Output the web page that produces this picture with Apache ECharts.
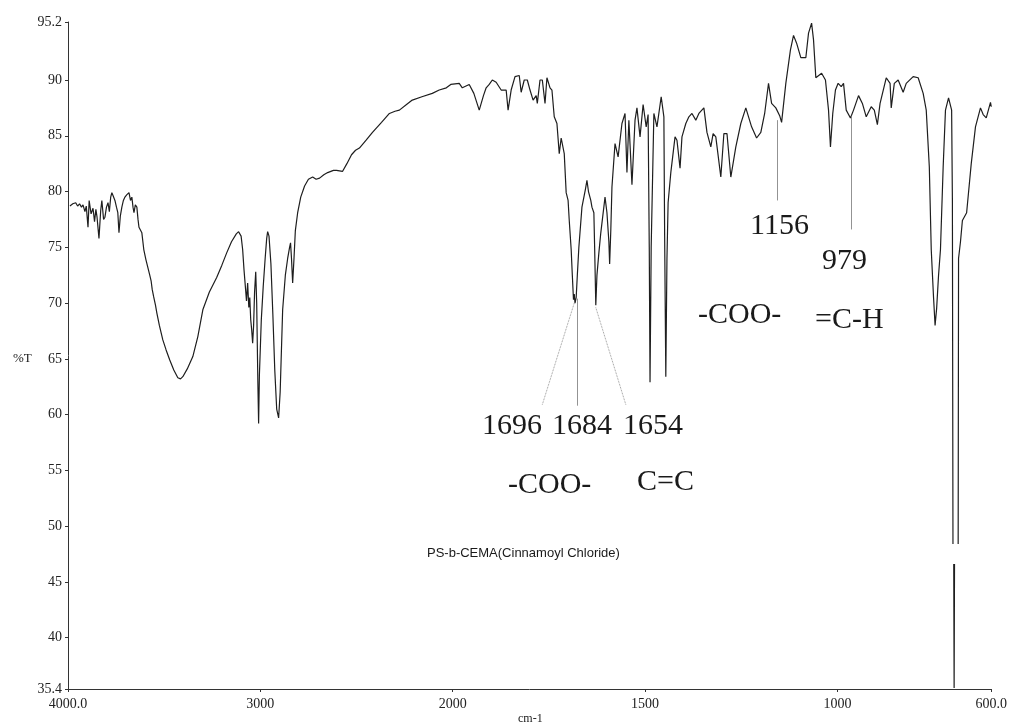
<!DOCTYPE html>
<html>
<head>
<meta charset="utf-8">
<script src="https://cdn.jsdelivr.net/npm/echarts@6/dist/echarts.min.js"></script>
<style>
html,body{margin:0;padding:0;background:#fff;}
#chart{width:1010px;height:728px;}
</style>
</head>
<body>
<div id="chart"></div>
<script>
// ---- tick labels ----
const xTickValues = [4000, 3000, 2000, 1500, 1000, 600];
const xTickLabels = ['4000.0', '3000', '2000', '1500', '1000', '600.0'];
const yTickValues = [35.4, 40, 45, 50, 55, 60, 65, 70, 75, 80, 85, 90, 95.2];
const yTickLabels = ['35.4', '40', '45', '50', '55', '60', '65', '70', '75', '80', '85', '90', '95.2'];

// ---- spectrum: [wavenumber cm-1, %T] ; null = pen gap ----
const specOH = [[3990,78.7],[3975,78.9],[3960,79.0],[3950,78.7],[3940,78.9],[3930,78.6],[3922,78.8],[3912,78.2],[3905,78.7],[3896,76.8],[3890,79.2],[3880,78.0],[3870,78.5],[3862,77.3],[3855,78.4],[3849,77.7],[3839,75.8],[3830,78.3],[3824,79.2],[3815,77.5],[3808,77.7],[3800,78.6],[3792,79.0],[3785,78.2],[3778,79.5],[3772,79.9],[3765,79.6],[3756,79.2],[3748,78.6],[3741,78.1],[3735,76.3],[3728,77.8],[3720,78.6],[3712,79.2],[3704,79.5],[3695,79.7],[3683,79.9],[3675,79.2],[3668,79.5],[3662,78.6],[3657,78.1],[3650,78.8],[3642,78.6],[3636,77.5],[3631,76.8],[3622,76.9],[3616,76.3],[3606,74.8],[3595,73.9],[3585,73.2],[3575,72.5],[3568,72.0],[3562,71.2],[3555,70.6],[3545,69.8],[3538,69.1],[3525,68.0],[3507,66.7],[3490,65.8],[3471,64.9],[3450,64.0],[3429,63.3],[3415,63.2],[3403,63.4],[3380,64.1],[3351,65.2],[3325,67.0],[3299,69.4],[3265,71.0],[3227,72.3],[3200,73.4],[3175,74.5],[3150,75.5],[3125,76.2],[3113,76.4],[3100,76.0],[3092,74.8]];
const specCH = [[3085,73.0],[3078,71.5],[3072,70.2],[3066,71.8],[3060,69.6],[3055,70.5],[3050,68.5],[3045,67.6],[3040,66.4],[3035,68.0],[3030,71.0],[3024,72.8],[3019,70.0],[3013,63.0],[3009,59.2],[3005,63.5],[3000,66.0],[2995,68.5],[2985,71.5],[2975,74.0],[2967,75.8],[2962,76.4],[2955,76.0],[2945,73.5],[2935,69.0],[2925,64.0],[2915,60.5],[2905,59.7],[2897,62.0],[2890,66.0],[2884,69.4],[2870,72.5],[2858,74.0],[2848,75.0],[2843,75.4],[2838,74.0],[2832,71.8],[2825,74.0],[2818,76.5],[2806,78.1],[2790,79.5],[2770,80.5],[2750,81.1],[2728,81.3],[2710,81.1],[2692,81.2],[2670,81.5],[2650,81.7],[2620,81.9],[2604,81.9],[2573,81.8],[2550,82.5],[2526,83.3],[2505,83.7],[2485,83.9],[2450,84.6],[2417,85.3],[2370,86.2],[2329,87.0],[2300,87.2],[2277,87.3],[2240,87.8],[2210,88.2],[2160,88.5],[2106,88.8],[2070,89.1],[2033,89.3],[2010,89.6]];
const specCO = [[1983,89.7],[1975,89.3],[1957,89.6],[1945,88.8],[1931,87.3],[1920,88.6],[1913,89.3],[1905,89.6],[1897,90.0],[1887,89.8],[1874,89.1],[1861,89.1],[1856,87.3],[1848,89.1],[1838,90.3],[1827,90.4],[1822,88.9],[1814,90.0],[1806,90.0],[1799,89.1],[1791,88.2],[1783,88.6],[1780,87.9],[1773,90.0],[1767,90.0],[1760,87.9],[1755,90.2],[1747,89.3],[1742,89.1],[1736,86.7],[1729,86.1],[1723,83.4],[1718,84.8],[1710,83.4],[1705,79.9],[1700,79.2],[1697,77.4],[1692,74.8],[1689,72.5],[1686,70.3],[1684,70.8],[1682,70.0],[1679,70.5],[1676,72.5],[1672,75.0],[1664,78.6],[1655,80.2],[1651,81.0],[1647,80.0],[1641,79.2],[1638,78.6],[1633,78.1],[1631,75.0],[1628,69.8],[1625,72.5],[1620,74.5],[1615,76.3],[1604,79.5],[1599,78.1],[1594,75.5],[1592,73.5],[1589,76.5],[1586,80.4],[1578,84.3],[1570,83.1],[1560,86.1],[1552,87.0],[1547,81.7],[1542,86.4],[1534,80.6],[1526,86.4],[1521,87.5],[1513,84.9],[1505,87.8],[1497,85.8],[1492,86.9],[1489,75.0],[1487,62.9],[1484,75.0],[1477,87.0],[1469,85.8],[1458,88.5],[1451,86.7],[1449,76.0],[1446,63.4],[1443,74.0],[1440,79.0]];
const specFP = [[1433,81.7],[1422,84.9],[1417,84.6],[1409,82.1],[1404,84.9],[1394,86.1],[1386,86.7],[1378,87.0],[1368,86.4],[1360,87.0],[1347,87.5],[1339,85.3],[1329,84.0],[1323,85.2],[1316,84.9],[1303,81.3],[1295,85.2],[1287,85.2],[1277,81.3],[1264,84.0],[1251,86.1],[1238,87.5],[1223,85.8],[1210,84.8],[1199,85.3],[1189,87.0],[1179,89.7],[1171,87.9],[1160,87.5],[1150,86.8],[1145,86.2],[1134,89.7],[1122,92.7],[1114,94.0],[1106,93.3],[1095,92.0],[1082,92.0],[1075,94.2],[1067,95.1],[1062,93.6],[1056,90.2],[1041,90.6],[1031,90.0],[1023,87.3],[1018,84.0],[1012,87.0],[1005,89.1],[998,89.7],[990,89.4],[984,89.7],[977,87.3],[966,86.6],[958,87.3],[945,88.6],[935,87.9],[925,86.7],[912,87.6],[904,87.3],[896,86.0],[889,87.9],[873,90.2],[863,89.7],[860,87.5],[852,89.7],[842,90.0],[829,88.9],[821,89.7],[803,90.3],[790,90.2],[777,88.8],[769,87.3],[761,82.2],[756,74.8],[750,70.5],[746,68.0],[742,69.5],[737,72.5],[732,74.8],[725,82.2],[719,87.3],[711,88.4],[703,87.3],[701,79.2],[699.5,48.4],[698.8,null],[697.5,46.6],[696.5,35.5],[695.5,46.6],[690,null],[686,48.4],[685,74.0],[680,75.5],[675,77.4],[664,78.1],[652,82.5],[641,85.8],[628,87.5],[621,86.9],[613,86.6],[602,88.0],[600,87.6]];

// ---- peak marker lines: [wavenumber, %T from, %T to] ----
const peakMarks = [[1155, 86.4, 79.2], [965, 86.8, 76.6], [1677, 70.4, 60.8]];
// leader lines from peaks to labels: [[w1,T1],[w2,T2]]
const leaders = [[[1684, 70.0], [1767, 60.9]], [[1628, 69.6], [1550, 60.9]]];

// display transform: 2x expansion below 2000 cm-1 (as in the instrument plot)
function toX(w) { return w >= 2000 ? 4000 - w : 2000 + 2 * (2000 - w); }
function labelFor(values, labels, v, f) {
  let best = 0, d = Infinity;
  values.forEach((x, i) => { const dd = Math.abs(f(x) - v); if (dd < d) { d = dd; best = i; } });
  return labels[best];
}

const spectrum = [].concat(specOH, specCH, specCO, specFP).map(p => [toX(p[0]), p[1] === null ? '-' : p[1]]);

const serif = "'Liberation Serif','DejaVu Serif',serif";
const chart = echarts.init(document.getElementById('chart'), null, {renderer: 'canvas'});

const markData = peakMarks.map(m => [
  {coord: [toX(m[0]), m[1]], lineStyle: {color: '#777', width: 0.8, type: 'solid'}},
  {coord: [toX(m[0]), m[2]]}
]).concat(leaders.map(l => [
  {coord: [toX(l[0][0]), l[0][1]], lineStyle: {color: '#777', width: 0.8, type: 'dotted'}},
  {coord: [toX(l[1][0]), l[1][1]]}
]));

function txt(x, y, s, size, family) {
  return {type: 'text', left: x, top: y, style: {text: s, fill: '#1a1a1a', font: size + 'px ' + (family || serif)}};
}

chart.setOption({
  animation: false,
  backgroundColor: '#fff',
  grid: {left: 68, right: 17, top: 22, bottom: 39},
  xAxis: {
    type: 'value', min: 0, max: 4800,
    splitLine: {show: false},
    axisLine: {lineStyle: {color: '#333', width: 1}},
    axisTick: {show: true, length: 3, customValues: xTickValues.map(toX), lineStyle: {color: '#333'}},
    axisLabel: {
      customValues: xTickValues.map(toX),
      formatter: v => labelFor(xTickValues, xTickLabels, v, toX),
      color: '#222', fontFamily: serif, fontSize: 14, margin: 8
    }
  },
  yAxis: {
    type: 'value', min: 35.4, max: 95.2,
    splitLine: {show: false},
    axisLine: {show: true, lineStyle: {color: '#333', width: 1}},
    axisTick: {show: true, length: 3, customValues: yTickValues, lineStyle: {color: '#333'}},
    axisLabel: {
      customValues: yTickValues,
      formatter: v => labelFor(yTickValues, yTickLabels, v, x => x),
      color: '#222', fontFamily: serif, fontSize: 14, margin: 6
    }
  },
  series: [{
    type: 'line',
    data: spectrum,
    showSymbol: false,
    connectNulls: false,
    lineStyle: {color: '#1e1e1e', width: 1.2},
    markLine: {silent: true, symbol: 'none', label: {show: false}, data: markData}
  }],
  graphic: [
    txt(482, 411, '1696', 30), txt(552, 411, '1684', 30), txt(623, 411, '1654', 30),
    txt(508, 470, '-COO-', 30), txt(637, 467, 'C=C', 30),
    txt(750, 211, '1156', 30), txt(822, 246, '979', 30),
    txt(698, 300, '-COO-', 30), txt(815, 305, '=C-H', 30),
    txt(427, 547, 'PS-b-CEMA(Cinnamoyl Chloride)', 13, "'Liberation Sans',Arial,sans-serif"),
    txt(13, 352, '%T', 13), txt(518, 713, 'cm-1', 12)
  ]
});
</script>
</body>
</html>
